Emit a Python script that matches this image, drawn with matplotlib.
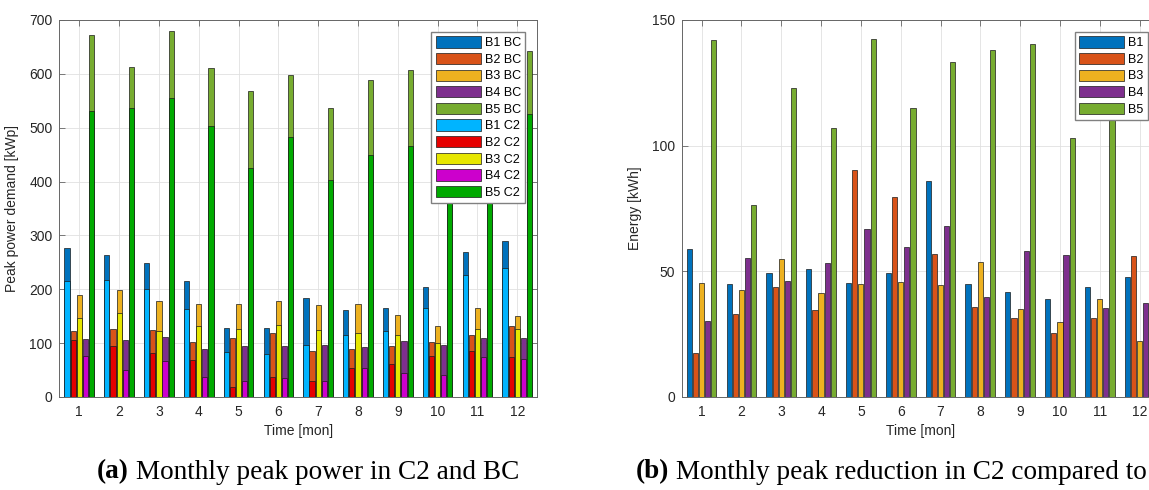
import numpy as np
import matplotlib
matplotlib.use("Agg")
import matplotlib.pyplot as plt

plt.rcParams['font.family'] = ['Liberation Sans', 'DejaVu Sans']

months = np.arange(1, 13)
buildings = ["B1", "B2", "B3", "B4", "B5"]

# monthly peak power, base case [kWp]
peak_bc = [
    [276, 263, 249, 216, 129, 128, 183, 161, 165, 205, 270, 289],
    [122, 126, 125, 102, 109, 118, 86, 89, 94, 102, 116, 131],
    [190, 198, 178, 173, 173, 179, 171, 172, 152, 131, 166, 151],
    [107, 106, 112, 90, 95, 95, 97, 92, 104, 97, 110, 109],
    [673, 613, 679, 610, 569, 597, 536, 588, 607, 505, 595, 643],
]
# monthly peak power, case C2 [kWp]
peak_c2 = [
    [216, 218, 200, 164, 84, 79, 97, 116, 123, 166, 226, 240],
    [105, 94, 81, 68, 19, 38, 29, 53, 62, 77, 85, 75],
    [146, 156, 123, 131, 127, 134, 125, 118, 116, 101, 127, 127],
    [77, 51, 66, 37, 29, 36, 30, 53, 45, 41, 74, 71],
    [531, 536, 556, 503, 426, 482, 402, 449, 466, 402, 470, 525],
]
# monthly peak reduction C2 vs BC [kWh]
reduction = [
    [58.9, 45.0, 49.5, 51.1, 45.3, 49.5, 85.8, 44.9, 41.6, 38.8, 43.9, 47.8],
    [17.4, 32.9, 43.8, 34.8, 90.4, 79.4, 56.7, 35.8, 31.6, 25.6, 31.6, 56.0],
    [45.3, 42.7, 54.8, 41.2, 45.1, 45.9, 44.7, 53.9, 35.2, 29.9, 38.9, 22.3],
    [30.1, 55.2, 46.0, 53.2, 66.9, 59.7, 68.2, 39.6, 58.0, 56.4, 35.6, 37.4],
    [141.9, 76.2, 122.8, 106.9, 142.4, 115.1, 133.1, 138.2, 140.4, 103.0, 125.0, 117.2],
]

bc_colors = ['#0072BD', '#D95319', '#EDB120', '#7E2F8E', '#77AC30']
c2_colors = ['#00B4FF', '#E60000', '#E6E600', '#CC00CC', '#00AA00']

W, H = 1149, 490
fig = plt.figure(figsize=(W / 100, H / 100), dpi=100)
ax1 = fig.add_axes([59.4 / W, 1 - 397 / H, 477.8 / W, 377 / H])
ax2 = fig.add_axes([681.7 / W, 1 - 397 / H, 477.8 / W, 377 / H])

step = 0.769 / 5
offsets = (np.arange(5) - 2) * step
width = 0.13


def style_axes(ax, ymax, yticks, ylabel):
    ax.set_xlim(0.5, 12.5)
    ax.set_ylim(0, ymax)
    ax.set_xticks(months)
    ax.set_yticks(yticks)
    ax.grid(True, color='#E0E0E0', lw=0.6)
    ax.set_axisbelow(True)
    ax.tick_params(direction='in', top=True, right=True, length=4, width=0.6,
                   color='#666666', labelcolor='#262626', labelsize=10)
    ax.tick_params(axis='x', pad=6)
    ax.tick_params(axis='y', pad=5)
    for s in ax.spines.values():
        s.set_color('#666666')
        s.set_linewidth(0.7)
    ax.set_xlabel('Time [mon]', fontsize=10, color='#262626', labelpad=3)
    ax.set_ylabel(ylabel, fontsize=10, color='#262626', labelpad=7)


def add_legend(ax):
    ax.legend(loc='upper right', bbox_to_anchor=(1 - 12 / 477.8, 1 - 12 / 377),
              borderaxespad=0, fontsize=9, handlelength=3.6, handleheight=1.0,
              labelspacing=0.3, handletextpad=0.3, borderpad=0.35,
              fancybox=False, framealpha=1, edgecolor='#808080')


# (a) peak power, BC behind C2
for i, b in enumerate(buildings):
    ax1.bar(months + offsets[i], peak_bc[i], width, color=bc_colors[i],
            edgecolor='#1a1a1a', lw=0.5, label=f'{b} BC', zorder=2)
for i, b in enumerate(buildings):
    ax1.bar(months + offsets[i], peak_c2[i], width, color=c2_colors[i],
            edgecolor='#1a1a1a', lw=0.5, label=f'{b} C2', zorder=3)
style_axes(ax1, 700, range(0, 701, 100), 'Peak power demand [kWp]')
add_legend(ax1)

# (b) peak reduction
for i, b in enumerate(buildings):
    ax2.bar(months + offsets[i], reduction[i], width, color=bc_colors[i],
            edgecolor='#1a1a1a', lw=0.5, label=b, zorder=2)
style_axes(ax2, 150, [0, 50, 100, 150], 'Energy [kWh]')
add_legend(ax2)

# captions
renderer = fig.canvas.get_renderer()
cap_font = ['Liberation Serif', 'DejaVu Serif']
for x0, tag, rest in [(97, '(a)', ' Monthly peak power in C2 and BC'),
                      (636, '(b)', ' Monthly peak reduction in C2 compared to')]:
    t = fig.text(x0 / W, 1 - 472 / H, tag, fontsize=19.6, fontweight='bold',
                 family=cap_font, va='center')
    bb = t.get_window_extent(renderer)
    fig.text(bb.x1 / W, 1 - 472 / H, rest, fontsize=19.6, family=cap_font, va='center')

fig.savefig('out.png', dpi=100)
